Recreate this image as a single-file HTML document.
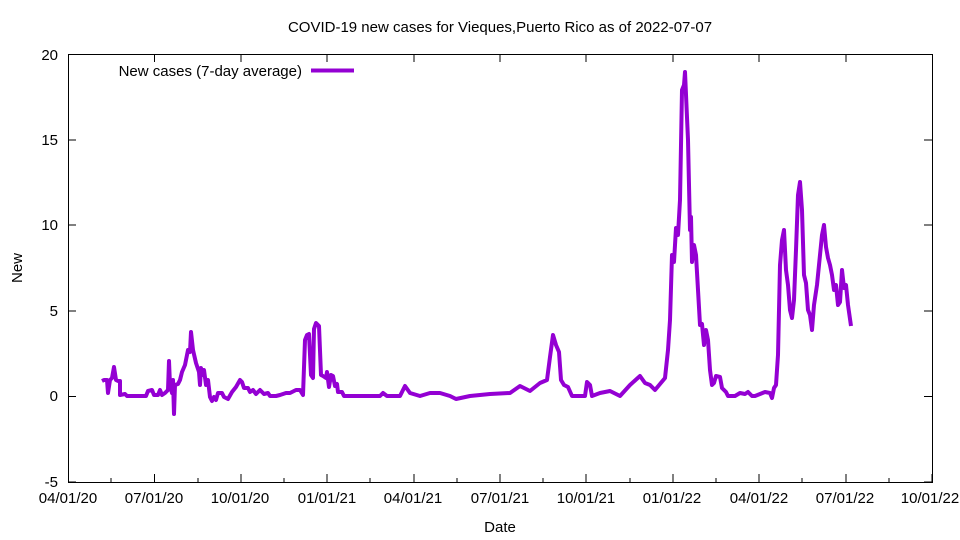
<!DOCTYPE html>
<html><head><meta charset="utf-8"><style>body{margin:0;background:#fff}svg{display:block}text{font-family:"Liberation Sans",sans-serif;font-size:15px;fill:#000}</style></head>
<body>
<svg width="960" height="540" xmlns="http://www.w3.org/2000/svg">
<rect x="68.5" y="54.5" width="864" height="428" fill="none" stroke="#000" stroke-width="1"/>
<g stroke="#000" stroke-width="1">
<path d="M68 396.5h8M932 396.5h-8M68 311h8M932 311h-8M68 225h8M932 225h-8M68 140h8M932 140h-8M68 54.5h8M932 54.5h-8M68 482h8M932 482h-8"/>
<path d="M68.5 482v-8M154.5 482v-8M241 482v-8M327 482v-8M414 482v-8M500 482v-8M586 482v-8M673 482v-8M759 482v-8M846 482v-8M932 482v-8M154.5 54v8M241 54v8M327 54v8M414 54v8M500 54v8M586 54v8M673 54v8M759 54v8M846 54v8"/>
<path d="M111 482v-4M198 482v-4M284 482v-4M370 482v-4M457 482v-4M543 482v-4M630 482v-4M716 482v-4M802 482v-4M889 482v-4"/>
</g>
<g text-anchor="end">
<text x="58" y="401">0</text><text x="58" y="316">5</text><text x="58" y="230">10</text><text x="58" y="145">15</text><text x="58" y="60">20</text><text x="58" y="487">-5</text>
</g>
<g text-anchor="middle">
<text x="68" y="503">04/01/20</text><text x="154" y="503">07/01/20</text><text x="240" y="503">10/01/20</text><text x="327" y="503">01/01/21</text><text x="413" y="503">04/01/21</text><text x="500" y="503">07/01/21</text><text x="586" y="503">10/01/21</text><text x="672" y="503">01/01/22</text><text x="759" y="503">04/01/22</text><text x="845" y="503">07/01/22</text><text x="930" y="503">10/01/22</text>
<text x="500" y="532">Date</text>
<text x="500" y="32">COVID-19 new cases for Vieques,Puerto Rico as of 2022-07-07</text>
<text transform="translate(22,268) rotate(-90)">New</text>
</g>
<text x="302" y="76" text-anchor="end">New cases (7-day average)</text>
<path d="M311 70.5h43" stroke="#9400d3" stroke-width="4"/>
<polyline fill="none" stroke="#9400d3" stroke-width="4" stroke-linejoin="round" points="102,381 104,380 107,380 108,393 110,380 112,378 114,367 116,380 118,381 120,381 120,395 125,394 127,396 146,396 148,391 152,390 154,395 158,395 160,390 162,395 165,393 168,390 169,361 170,385 172,393 173,380 174,414 175,385 178,384 180,380 182,372 185,365 188,350 190,352 191,332 193,350 196,363 199,372 200,385 201,368 203,375 204,370 206,385 208,380 210,397 212,401 214,397 216,400 218,393 222,393 224,397 228,399 232,392 236,387 240,380 242,382 244,388 248,388 250,392 253,390 256,394 260,390 264,394 268,393 270,396 276,396 280,395 286,393 290,393 296,390 300,390 303,395 305,340 307,335 309,334 311,375 313,378 314,329 316,323 319,326 321,375 323,376 326,378 327,372 329,387 331,375 333,376 335,386 337,384 338,392 342,392 344,396 350,396 380,396 383,393 387,396 400,396 405,386 410,393 420,396 430,393 440,393 450,396 456,399 470,396 490,394 510,393 520,386 530,391 540,383 547,380 550,357 553,335 556,345 559,352 561,380 564,385 568,387 572,396 585,396 587,382 590,385 592,396 600,393 610,391 620,396 630,385 640,376 645,383 650,385 655,390 660,384 665,378 668,350 670,320 672,255 674,262 676,228 678,235 680,200 682,90 684,85 685,72 688,140 690,230 691,217 692,262 694,245 696,255 698,290 700,325 702,324 704,345 706,330 708,340 710,370 712,385 714,383 716,376 720,377 722,388 724,390 726,392 728,396 735,396 740,393 745,394 748,392 752,396 755,396 765,392 770,393 772,398 774,388 776,385 778,355 780,265 782,240 784,230 786,270 788,285 790,310 792,318 794,300 796,250 798,195 800,182 802,210 804,275 806,283 808,310 810,315 812,330 814,305 817,285 820,255 822,235 824,225 826,247 828,258 830,265 832,275 834,290 836,285 838,305 840,302 842,270 844,288 846,285 848,305 851,326"/>
</svg>
</body></html>
